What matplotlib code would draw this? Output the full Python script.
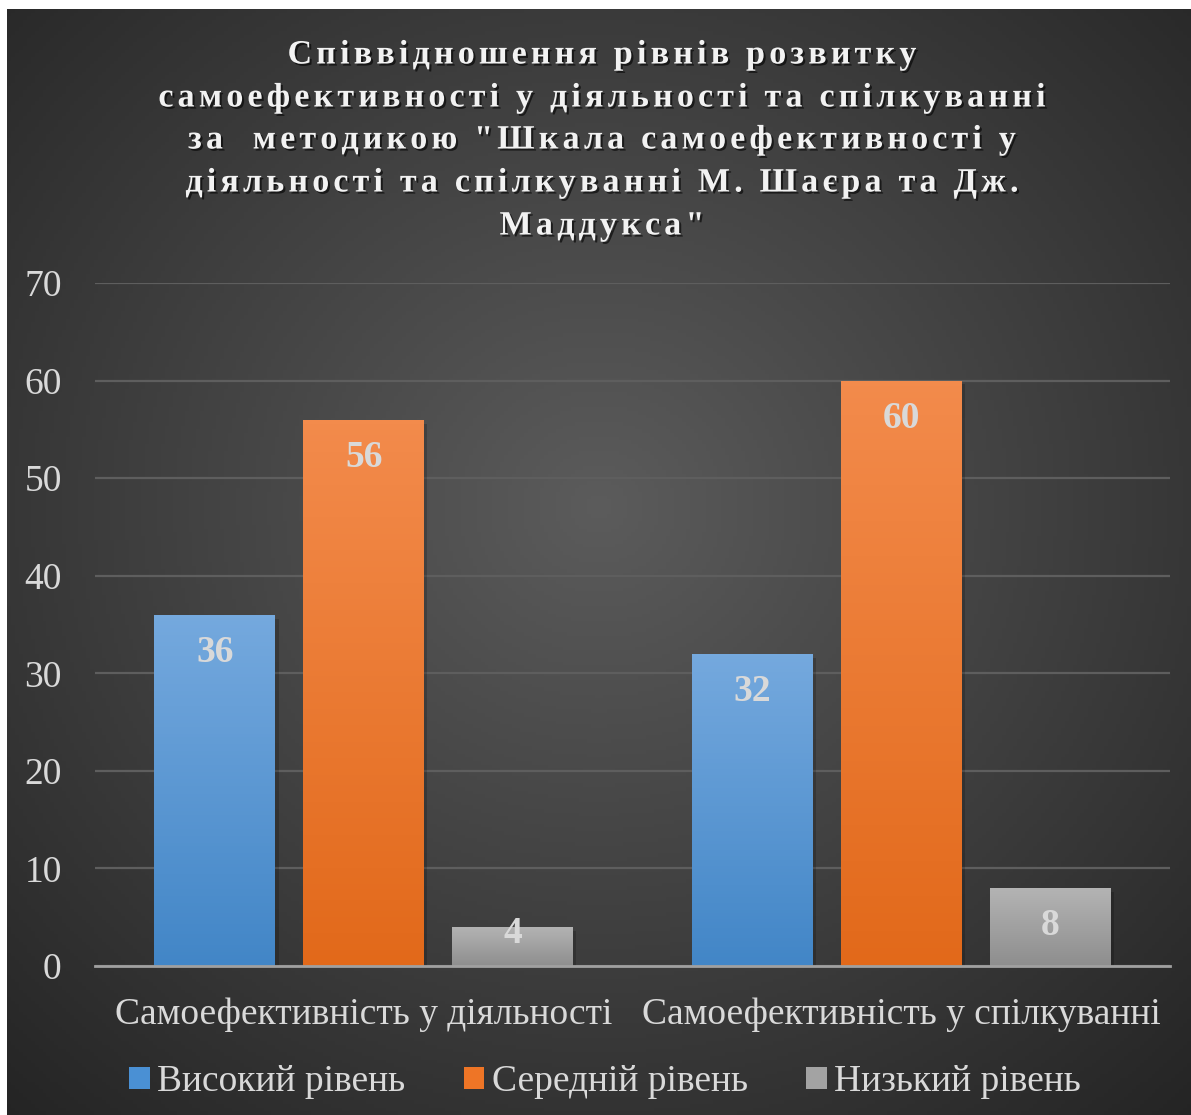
import numpy as np
import matplotlib.pyplot as plt
import matplotlib.patheffects as pe
from matplotlib.patches import Rectangle
from matplotlib.font_manager import FontProperties

categories = ["Самоефективність у діяльності", "Самоефективність у спілкуванні"]
series_names = ["Високий рівень", "Середній рівень", "Низький рівень"]
high = [36, 32]
medium = [56, 60]
low = [4, 8]
y_ticks = [0, 10, 20, 30, 40, 50, 60, 70]
title_lines = ['Співвідношення рівнів розвитку',
               'самоефективності у діяльності та спілкуванні',
               'за  методикою "Шкала самоефективності у',
               'діяльності та спілкуванні М. Шаєра та Дж.',
               'Маддукса"']

# (top colour, bottom colour) per series
grads = [("#75a9de", "#4286c7"), ("#f38b4c", "#e2691a"), ("#b4b4b4", "#8e8e8e")]
legend_colors = ["#4a90d4", "#ee7526", "#a3a3a3"]
txt = "#d9d9d9"
serif = ["Liberation Serif", "DejaVu Serif"]

W, H = 1191, 1115
fig = plt.figure(figsize=(W / 100, H / 100), dpi=100)
fig.patch.set_facecolor("white")

# dark panel with radial gradient
bg = fig.add_axes([7 / W, 0, 1 - 7 / W, 1 - 9 / H])
yy, xx = np.mgrid[0:1:300j, 0:1:300j]
r = np.sqrt((xx - 0.5) ** 2 + (yy - 0.45) ** 2) / 0.72
g = np.clip(0.36 - 0.21 * r, 0.14, 0.4)
bg.imshow(np.dstack([g, g, g]), extent=[0, 1, 0, 1], aspect="auto", origin="upper")
bg.set_axis_off()

x0, x1 = 95 / W, 1170 / W
y0, y1 = 1 - 966 / H, 1 - 283 / H
ax = fig.add_axes([x0, y0, x1 - x0, y1 - y0])
ax.patch.set_alpha(0)
ax.set_xlim(-0.5, 1.5)
ax.set_ylim(0, 70)

w = 0.225
step = 0.277
x = np.arange(len(categories))
for k, vals in enumerate([high, medium, low]):
    bars = ax.bar(x + (k - 1) * step, vals, w, color=legend_colors[k], zorder=3,
                  label=series_names[k])
    top, bot = grads[k]
    c1 = np.array(plt.matplotlib.colors.to_rgb(top))
    c2 = np.array(plt.matplotlib.colors.to_rgb(bot))
    t = np.linspace(0, 1, 100)[:, None]
    grad = (c1 * (1 - t) + c2 * t)[:, None, :]
    for b, v in zip(bars, vals):
        bx, by, bw, bh = b.get_x(), b.get_y(), b.get_width(), b.get_height()
        # soft shadow
        ax.add_patch(Rectangle((bx + 0.006, by), bw, bh - 0.4, facecolor="black",
                               alpha=0.18, zorder=2, linewidth=0))
        im = ax.imshow(grad, extent=[bx, bx + bw, by, by + bh], aspect="auto",
                       origin="upper", zorder=4)
        im.set_clip_path(b)
        ly = max(v - 3.9, 3.3)
        ax.text(bx + bw / 2, ly, str(v), ha="center", va="center", fontsize=27,
                fontweight="bold", color=txt, family=serif, zorder=6)

ax.set_yticks(y_ticks)
ax.yaxis.grid(True, color="#5e5e5e", linewidth=1.6, zorder=0)
ax.set_axisbelow(True)
for s in ["top", "right", "left"]:
    ax.spines[s].set_visible(False)
ax.spines["bottom"].set_color("#a0a0a0")
ax.spines["bottom"].set_linewidth(2)
ax.spines["bottom"].set_zorder(5)
ax.tick_params(axis="y", length=0, pad=24, labelsize=27, labelcolor=txt)
ax.tick_params(axis="x", length=0, pad=23, labelsize=27, labelcolor=txt)
for lab in ax.get_yticklabels() + ax.get_xticklabels():
    lab.set_family(serif)
ax.set_xticks(x)
ax.set_xticklabels(categories)

# title with expanded letter spacing, placed glyph by glyph
renderer = fig.canvas.get_renderer()
tprop = FontProperties(family=serif, weight="bold", size=24.5)
spacing = 4.2
line_y = [55, 98, 140, 183, 226]
shadow = [pe.SimplePatchShadow(offset=(1.5, -1.5), shadow_rgbFace="black", alpha=0.6),
          pe.Normal()]
for line, ypx in zip(title_lines, line_y):
    widths = [renderer.get_text_width_height_descent(ch, tprop, ismath=False)[0]
              for ch in line]
    total = sum(widths) + spacing * (len(line) - 1)
    xp = 602 - total / 2
    for ch, cw in zip(line, widths):
        fig.text(xp / W, 1 - ypx / H, ch, ha="left", va="center", fontproperties=tprop,
                 color="#f2f2f2", path_effects=shadow)
        xp += cw + spacing

handles = [Rectangle((0, 0), 1, 1, facecolor=c) for c in legend_colors]
leg = fig.legend(handles, series_names, loc="center", bbox_to_anchor=(0.508, 1 - 1082 / H),
                 ncol=3, frameon=False, handlelength=0.55, handleheight=0.55,
                 handletextpad=0.2, columnspacing=1.55,
                 prop={"family": serif, "size": 27})
for t_ in leg.get_texts():
    t_.set_color(txt)

fig.savefig("out.png", dpi=100)
